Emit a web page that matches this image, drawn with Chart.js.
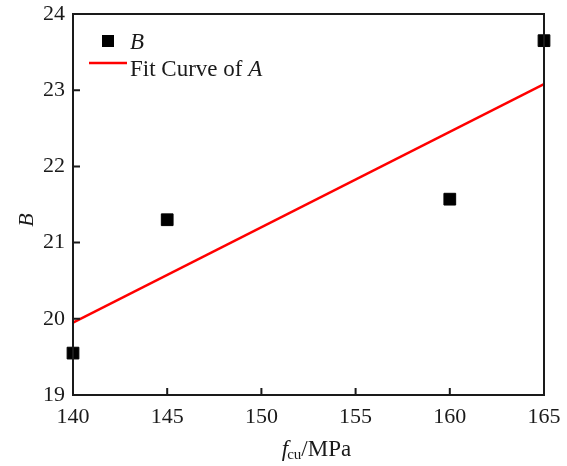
<!DOCTYPE html>
<html>
<head>
<meta charset="utf-8">
<script src="https://cdn.jsdelivr.net/npm/chart.js@4.4.0/dist/chart.umd.min.js"></script>
<style>
  html, body { margin: 0; padding: 0; background: #fff; }
  #wrap { width: 567px; height: 466px; }
</style>
</head>
<body>
<div id="wrap"><canvas id="fitChart" width="567" height="466"></canvas></div>
<script>
// measured points (B)
const fcu = [140, 145, 160, 165];
const bValues = [19.55, 21.3, 21.57, 23.65];
// fit line of A, read at the ends of the axis
const fitX = [140, 165];
const fitY = [19.95, 23.08];
const xTicks = [140, 145, 150, 155, 160, 165];
const yTicks = [19, 20, 21, 22, 23, 24];

const serif = '"Liberation Serif", "DejaVu Serif", serif';

// frame, inward ticks, titles and legend
const decorations = {
    id: 'decorations',
    afterDraw(chart) {
        const ctx = chart.ctx;
        const area = chart.chartArea;
        const xs = chart.scales.x;
        const ys = chart.scales.y;
        ctx.save();
        ctx.strokeStyle = '#1a1a1a';
        ctx.lineWidth = 2;
        ctx.strokeRect(area.left, area.top, area.right - area.left, area.bottom - area.top);

        // ticks point into the plot
        ctx.beginPath();
        xTicks.forEach(v => {
            const px = xs.getPixelForValue(v);
            ctx.moveTo(px, area.bottom);
            ctx.lineTo(px, area.bottom - 7);
        });
        yTicks.forEach(v => {
            const py = ys.getPixelForValue(v);
            ctx.moveTo(area.left, py);
            ctx.lineTo(area.left + 7, py);
        });
        ctx.stroke();

        ctx.fillStyle = '#1a1a1a';
        ctx.textBaseline = 'alphabetic';

        // x title: f_cu/MPa
        const cx = (area.left + area.right) / 2 + 8;
        ctx.font = 'italic 23px ' + serif;
        const wF = ctx.measureText('f').width - 1;
        ctx.font = '15px ' + serif;
        const wSub = ctx.measureText('cu').width;
        ctx.font = '23px ' + serif;
        const wRest = ctx.measureText('/MPa').width;
        let tx = cx - (wF + wSub + wRest) / 2;
        const ty = 456;
        ctx.textAlign = 'left';
        ctx.font = 'italic 23px ' + serif;
        ctx.fillText('f', tx, ty);
        tx += wF;
        ctx.font = '15px ' + serif;
        ctx.fillText('cu', tx, ty + 3);
        tx += wSub;
        ctx.font = '23px ' + serif;
        ctx.fillText('/MPa', tx, ty);

        // y title: B
        ctx.save();
        ctx.translate(33, 220);
        ctx.rotate(-Math.PI / 2);
        ctx.textAlign = 'center';
        ctx.font = 'italic 22px ' + serif;
        ctx.fillText('B', 0, 0);
        ctx.restore();

        // legend
        ctx.fillStyle = '#000';
        ctx.fillRect(102, 35, 12, 12);
        ctx.fillStyle = '#1a1a1a';
        ctx.font = 'italic 23px ' + serif;
        ctx.fillText('B', 130, 49);
        ctx.strokeStyle = '#ff0000';
        ctx.lineWidth = 2.5;
        ctx.beginPath();
        ctx.moveTo(89, 63);
        ctx.lineTo(127, 63);
        ctx.stroke();
        ctx.font = '23px ' + serif;
        const fitLabel = 'Fit Curve of ';
        ctx.fillText(fitLabel, 130, 76);
        const wl = ctx.measureText(fitLabel).width;
        ctx.font = 'italic 23px ' + serif;
        ctx.fillText('A', 130 + wl, 76);
        ctx.restore();
    }
};

const ctx = document.getElementById('fitChart').getContext('2d');
new Chart(ctx, {
    type: 'scatter',
    data: {
        datasets: [
            {
                type: 'line',
                label: 'Fit Curve of A',
                data: fitX.map((x, i) => ({ x: x, y: fitY[i] })),
                borderColor: '#ff0000',
                borderWidth: 2.5,
                pointRadius: 0,
                fill: false,
            },
            {
                label: 'B',
                data: fcu.map((x, i) => ({ x: x, y: bValues[i] })),
                backgroundColor: '#000',
                borderColor: '#000',
                pointStyle: 'rect',
                pointRadius: 8.3,
                clip: false,
            },
        ],
    },
    options: {
        responsive: false,
        animation: false,
        layout: { padding: { left: 0, right: 23, top: 14, bottom: 0 } },
        plugins: {
            legend: { display: false },
            tooltip: { enabled: false },
        },
        scales: {
            x: {
                type: 'linear',
                min: 140,
                max: 165,
                afterFit: (scale) => {
                    scale.height = 71;
                    scale.paddingLeft = 0;
                    scale.paddingRight = 0;
                },
                afterBuildTicks: (scale) => { scale.ticks = xTicks.map(v => ({ value: v })); },
                grid: { display: false, drawTicks: false },
                border: { display: false },
                ticks: {
                    padding: 9,
                    color: '#1a1a1a',
                    font: { family: serif, size: 22 },
                },
            },
            y: {
                type: 'linear',
                min: 19,
                max: 24,
                afterFit: (scale) => {
                    scale.width = 73;
                    scale.paddingTop = 0;
                    scale.paddingBottom = 0;
                },
                afterBuildTicks: (scale) => { scale.ticks = yTicks.map(v => ({ value: v })); },
                grid: { display: false, drawTicks: false },
                border: { display: false },
                ticks: {
                    padding: 8,
                    color: '#1a1a1a',
                    font: { family: serif, size: 22 },
                },
            },
        },
    },
    plugins: [decorations],
});
</script>
</body>
</html>
